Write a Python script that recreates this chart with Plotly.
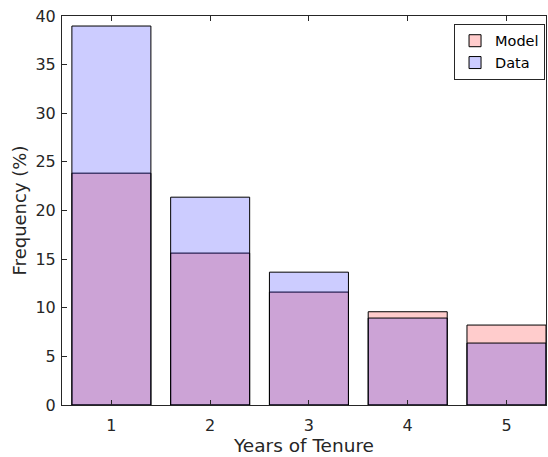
import plotly.graph_objects as go

# Tenure distribution: share of spells by completed years
years = [1, 2, 3, 4, 5]
model_pct = [23.84, 15.62, 11.61, 9.59, 8.22]
data_pct = [38.97, 21.37, 13.66, 8.94, 6.37]
y_ticks = [0, 5, 10, 15, 20, 25, 30, 35, 40]

axis_color = "#262626"
font_family = "DejaVu Sans, Liberation Sans, Arial, sans-serif"

fig = go.Figure()
fig.add_trace(go.Bar(
    x=years, y=model_pct, name="Model", width=0.8,
    marker=dict(color="rgba(255,0,0,0.2)", line=dict(color="black", width=1)),
))
fig.add_trace(go.Bar(
    x=years, y=data_pct, name="Data", width=0.8,
    marker=dict(color="rgba(0,0,255,0.2)", line=dict(color="black", width=1)),
))

fig.update_layout(
    width=548, height=457,
    margin=dict(l=62, r=2, t=16, b=52),
    barmode="overlay",
    plot_bgcolor="white", paper_bgcolor="white",
    font=dict(family=font_family, size=16, color=axis_color),
    legend=dict(
        x=0.998, y=0.98, xanchor="right", yanchor="top",
        bgcolor="white", bordercolor=axis_color, borderwidth=1,
        font=dict(size=14.5, color="black"),
        tracegroupgap=0, itemwidth=30,
    ),
    xaxis=dict(
        range=[0.5, 5.4], tickmode="array", tickvals=years,
        ticks="inside", ticklen=5, tickcolor=axis_color,
        tickfont=dict(size=16), ticklabelstandoff=6,
        showline=True, linecolor=axis_color, linewidth=1, mirror="ticks",
        showgrid=False, zeroline=False,
        title=dict(text="Years of Tenure", font=dict(size=18.5), standoff=4),
    ),
    yaxis=dict(
        range=[0, 40], tickmode="array", tickvals=y_ticks,
        ticks="inside", ticklen=5, tickcolor=axis_color,
        tickfont=dict(size=16), ticklabelstandoff=2,
        showline=True, linecolor=axis_color, linewidth=1, mirror=True,
        showgrid=False, zeroline=False,
        title=dict(text="Frequency (%)", font=dict(size=18), standoff=4),
    ),
)

fig.write_html("out.html")
